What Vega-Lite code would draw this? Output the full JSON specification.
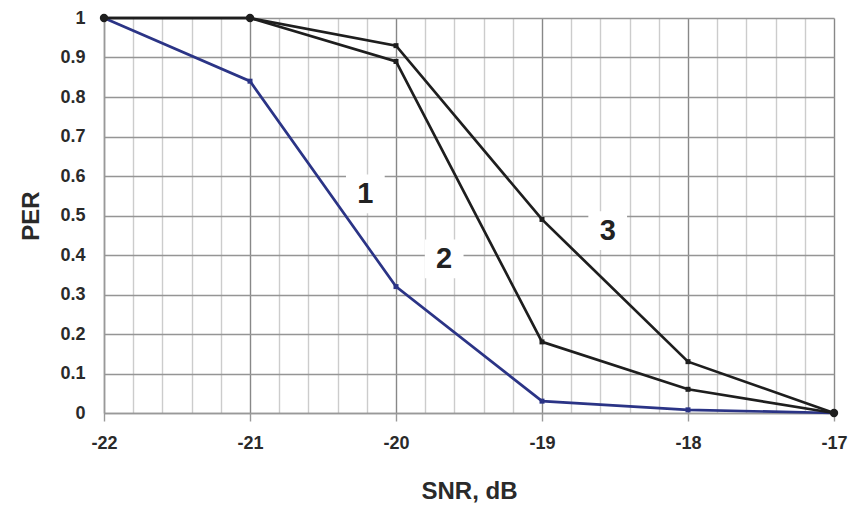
{
  "$schema": "https://vega.github.io/schema/vega-lite/v6.json",
  "autosize": "none",
  "width": 730,
  "height": 395,
  "padding": {"left": 104, "top": 18, "right": 17, "bottom": 96},
  "background": "white",
  "config": {"view": {"stroke": null}, "font": "Liberation Sans"},
  "datasets": {
    "curves": [
      {"snr": -22, "per": 1, "curve": "1"},
      {"snr": -21, "per": 0.84, "curve": "1"},
      {"snr": -20, "per": 0.32, "curve": "1"},
      {"snr": -19, "per": 0.03, "curve": "1"},
      {"snr": -18, "per": 0.008, "curve": "1"},
      {"snr": -17, "per": 0, "curve": "1"},
      {"snr": -22, "per": 1, "curve": "2"},
      {"snr": -21, "per": 1, "curve": "2"},
      {"snr": -20, "per": 0.89, "curve": "2"},
      {"snr": -19, "per": 0.18, "curve": "2"},
      {"snr": -18, "per": 0.06, "curve": "2"},
      {"snr": -17, "per": 0, "curve": "2"},
      {"snr": -22, "per": 1, "curve": "3"},
      {"snr": -21, "per": 1, "curve": "3"},
      {"snr": -20, "per": 0.93, "curve": "3"},
      {"snr": -19, "per": 0.49, "curve": "3"},
      {"snr": -18, "per": 0.13, "curve": "3"},
      {"snr": -17, "per": 0, "curve": "3"}
    ],
    "labels": [
      {"snr": -20.21, "per": 0.555, "label": "1"},
      {"snr": -19.67, "per": 0.39, "label": "2"},
      {"snr": -18.55, "per": 0.462, "label": "3"}
    ]
  },
  "encoding": {
    "x": {
      "field": "snr", "type": "quantitative",
      "scale": {"domain": [-22, -17], "nice": false, "zero": false},
      "axis": {
        "values": [-22, -21.8, -21.6, -21.4, -21.2, -21, -20.8, -20.6, -20.4, -20.2, -20, -19.8, -19.6, -19.4, -19.2, -19, -18.8, -18.6, -18.4, -18.2, -18, -17.8, -17.6, -17.4, -17.2, -17],
        "labelExpr": "abs(datum.value - round(datum.value)) < 0.001 ? toString(round(datum.value)) : ''",
        "grid": true,
        "gridColor": {"condition": {"test": "abs(datum.value - round(datum.value)) < 0.001", "value": "#888888"}, "value": "#cccccc"},
        "gridWidth": 1.4,
        "tickColor": {"condition": {"test": "abs(datum.value - round(datum.value)) < 0.001", "value": "#999"}, "value": "transparent"},
        "tickSize": 8,
        "tickWidth": 1.4,
        "domainColor": "#999",
        "domainWidth": 1.5,
        "labelFont": "Liberation Sans",
        "labelFontWeight": "bold",
        "labelFontSize": 18,
        "labelColor": "#2a2a2a",
        "labelPadding": 13,
        "labelFlush": false,
        "labelOverlap": false,
        "title": "SNR, dB",
        "titleFont": "Liberation Sans",
        "titleFontSize": 24,
        "titleFontWeight": "bold",
        "titleColor": "#2a2a2a",
        "titlePadding": 27
      }
    },
    "y": {
      "field": "per", "type": "quantitative",
      "scale": {"domain": [0, 1], "nice": false},
      "axis": {
        "values": [0, 0.1, 0.2, 0.3, 0.4, 0.5, 0.6, 0.7, 0.8, 0.9, 1],
        "labelExpr": "format(datum.value, '~g')",
        "grid": true,
        "gridColor": "#959595",
        "gridWidth": 1.4,
        "ticks": false,
        "domainColor": "#999",
        "domainWidth": 1.5,
        "labelFont": "Liberation Sans",
        "labelFontWeight": "bold",
        "labelFontSize": 18,
        "labelColor": "#2a2a2a",
        "labelPadding": 19,
        "labelFlush": false,
        "labelOverlap": false,
        "title": "PER",
        "titleFont": "Liberation Sans",
        "titleFontSize": 24,
        "titleFontWeight": "bold",
        "titleColor": "#2a2a2a",
        "titlePadding": 16
      }
    }
  },
  "layer": [
    {
      "data": {"name": "labels"},
      "mark": {"type": "point", "shape": "square", "filled": true, "color": "white", "opacity": 1, "size": 1500}
    },
    {
      "data": {"name": "curves"},
      "mark": {"type": "line", "strokeWidth": 2.7},
      "encoding": {
        "detail": {"field": "curve"},
        "color": {
          "field": "curve", "type": "nominal",
          "scale": {"domain": ["1", "2", "3"], "range": ["#2b3486", "#1e1e1e", "#1e1e1e"]},
          "legend": null
        }
      }
    },
    {
      "data": {"name": "curves"},
      "mark": {"type": "point", "filled": true, "opacity": 1, "shape": "square", "size": 25},
      "encoding": {
        "color": {"field": "curve", "type": "nominal", "legend": null}
      }
    },
    {
      "data": {"values": [{"snr": -22, "per": 1}, {"snr": -21, "per": 1}, {"snr": -17, "per": 0}]},
      "mark": {"type": "circle", "color": "#1e1e1e", "opacity": 1, "size": 70}
    },
    {
      "data": {"name": "labels"},
      "mark": {"type": "text", "font": "Liberation Sans", "fontWeight": "bold", "fontSize": 29, "color": "#222", "baseline": "middle", "align": "center"},
      "encoding": {
        "text": {"field": "label"}
      }
    }
  ]
}
